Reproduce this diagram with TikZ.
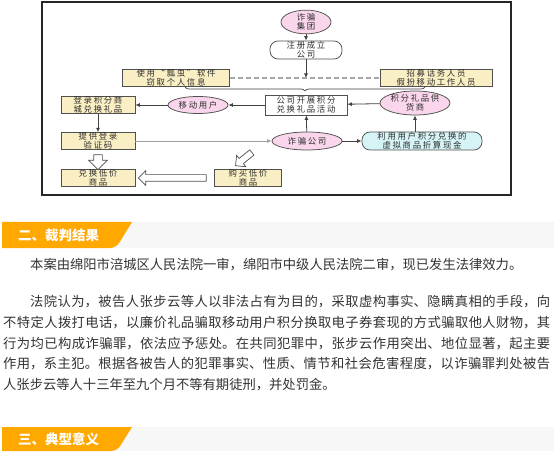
\documentclass[tikz,border=0pt]{standalone}
\usepackage{fontspec}
\setmainfont{Noto Sans CJK SC}
\newfontfamily\dg{Noto Sans CJK SC}[LetterSpace=20]
\usetikzlibrary{arrows.meta,shapes.geometric,shapes.arrows,decorations.pathreplacing}
\definecolor{pinkf}{RGB}{249,214,236}
\definecolor{yelf}{RGB}{250,239,196}
\definecolor{cyanf}{RGB}{214,244,246}
\definecolor{bordc}{RGB}{80,80,80}
\definecolor{linec}{RGB}{65,65,65}
\definecolor{txtc}{RGB}{45,45,45}
\definecolor{bodyc}{RGB}{51,51,51}
\definecolor{bandg}{RGB}{247,247,247}
\definecolor{bando}{RGB}{255,168,0}
\XeTeXlinebreaklocale "zh"
\XeTeXlinebreakskip=0pt plus 1pt
\begin{document}
\begin{tikzpicture}[x=1pt,y=-1pt,
  base/.style={draw=bordc, line width=0.75pt, font=\dg\fontsize{8.4}{9}\selectfont, text=txtc, align=center, inner sep=0pt},
  ybox/.style={base, fill=yelf},
  pell/.style={base, ellipse, fill=pinkf},
  wbox/.style={base, fill=white},
  arr/.style={draw=linec, line width=0.8pt, -{Latex[length=4.5pt,width=4pt]}},
  hollow/.style={single arrow, draw=bordc, fill=white, line width=0.7pt, inner xsep=0pt},
  body/.style={font=\fontsize{13.3}{20.8}\selectfont, text=bodyc, inner sep=0pt},
  bandtext/.style={font=\bfseries\fontsize{13.5}{15}\selectfont, text=white, inner sep=0pt, anchor=west}
]
\useasboundingbox (0,0) rectangle (554,457);
\fill[white] (0,0) rectangle (554,457);

% frame
\draw[line width=1.2pt, draw=black!85] (42,2) rectangle (511,195);

% nodes
\node[pell, minimum width=50pt, minimum height=22pt] (grp) at (306,22) {诈骗\\集团};
\node[wbox, rounded corners=8pt, minimum width=72pt, minimum height=18pt] (reg) at (306,50) {注册成立\\公司};
\node[ybox, minimum width=107pt, minimum height=17pt] (soft) at (176,78) {使用“瓢虫”软件\\窃取个人信息};
\node[ybox, minimum width=112pt, minimum height=17pt] (hire) at (436,78) {招募话务人员\\假扮移动工作人员};
\node[ybox, minimum width=74pt, minimum height=16pt] (login) at (98,105) {登录积分商\\城兑换礼品};
\node[pell, minimum width=60pt, minimum height=17pt] (user) at (198,105) {移动用户};
\node[wbox, minimum width=82pt, minimum height=20pt] (act) at (306,105) {公司开展积分\\兑换礼品活动};
\node[pell, minimum width=70pt, minimum height=24pt] (sup) at (415,103) {积分礼品供\\货商};
\node[ybox, minimum width=74pt, minimum height=16pt] (code) at (98,141) {提供登录\\验证码};
\node[pell, minimum width=70pt, minimum height=18pt] (comp) at (307,141) {诈骗公司};
\node[base, fill=cyanf, rounded corners=8pt, minimum width=120pt, minimum height=18pt] (cash) at (422,141) {利用用户积分兑换的\\虚拟商品折算现金};
\node[ybox, minimum width=74pt, minimum height=17pt] (exch) at (98,178) {兑换低价\\商品};
\node[ybox, minimum width=67pt, minimum height=17pt] (buy) at (248,178) {购买低价\\商品};

% dashed line and brace
\draw[dashed, draw=gray!70, line width=1.1pt, dash pattern=on 5pt off 3pt] (soft.east) -- (hire.west);
\coordinate (dmid) at (306,78);
\draw[decorate, decoration={brace, amplitude=4pt, mirror}, draw=linec, line width=0.7pt] (185,87) -- (425,87);

% arrows
\draw[arr] (grp) -- (reg);
\draw[arr] (reg) -- (dmid);
\draw[arr] (sup) -- (act);
\draw[arr] (act) -- (user);
\draw[arr] (user) -- (login);
\draw[arr] (login) -- (code);
\draw[arr, draw=gray!75] (code) -- (comp);
\draw[arr] (comp) -- (act);
\draw[arr] (comp) -- (cash);
\draw[arr] (cash.north -| sup.south) -- (sup.south);

% hollow arrows
\node[hollow, rotate=-90, minimum height=15pt, inner ysep=4pt, single arrow head extend=5pt] (h1) at (98,160) {};
\node[hollow, rotate=180, minimum height=68pt, inner ysep=3pt, single arrow head extend=4pt] (h2) at (174,178) {};
\node[hollow, rotate=219, minimum height=21pt, inner ysep=3pt, single arrow head extend=4pt] (h3) at (245,158) {};

% section band 1
\fill[bandg] (2,222) rectangle (554,248);
\fill[bando] (2,222) -- (132,222) [rounded corners=6pt] -- (116,248) [sharp corners] -- (2,248) -- cycle;
\node[bandtext] (t1) at (18,235) {二、裁判结果};

\node[body, anchor=west] (p1) at (30,265) {本案由绵阳市涪城区人民法院一审，绵阳市中级人民法院二审，现已发生法律效力。};

\node[body, anchor=north west, text width=547pt, align=justify] (p2) at (3,295) {\hspace*{27pt}法院认为，被告人张步云等人以非法占有为目的，采取虚构事实、隐瞒真相的手段，向\linebreak
不特定人拨打电话，以廉价礼品骗取移动用户积分换取电子券套现的方式骗取他人财物，其\linebreak
行为均已构成诈骗罪，依法应予惩处。在共同犯罪中，张步云作用突出、地位显著，起主要\linebreak
作用，系主犯。根据各被告人的犯罪事实、性质、情节和社会危害程度，以诈骗罪判处被告\linebreak
人张步云等人十三年至九个月不等有期徒刑，并处罚金。};

% section band 2
\fill[bandg] (2,427) rectangle (554,451);
\fill[bando] (2,427) -- (132,427) [rounded corners=6pt] -- (117,451) [sharp corners] -- (2,451) -- cycle;
\node[bandtext] (t2) at (18,439) {三、典型意义};
\end{tikzpicture}
\end{document}
